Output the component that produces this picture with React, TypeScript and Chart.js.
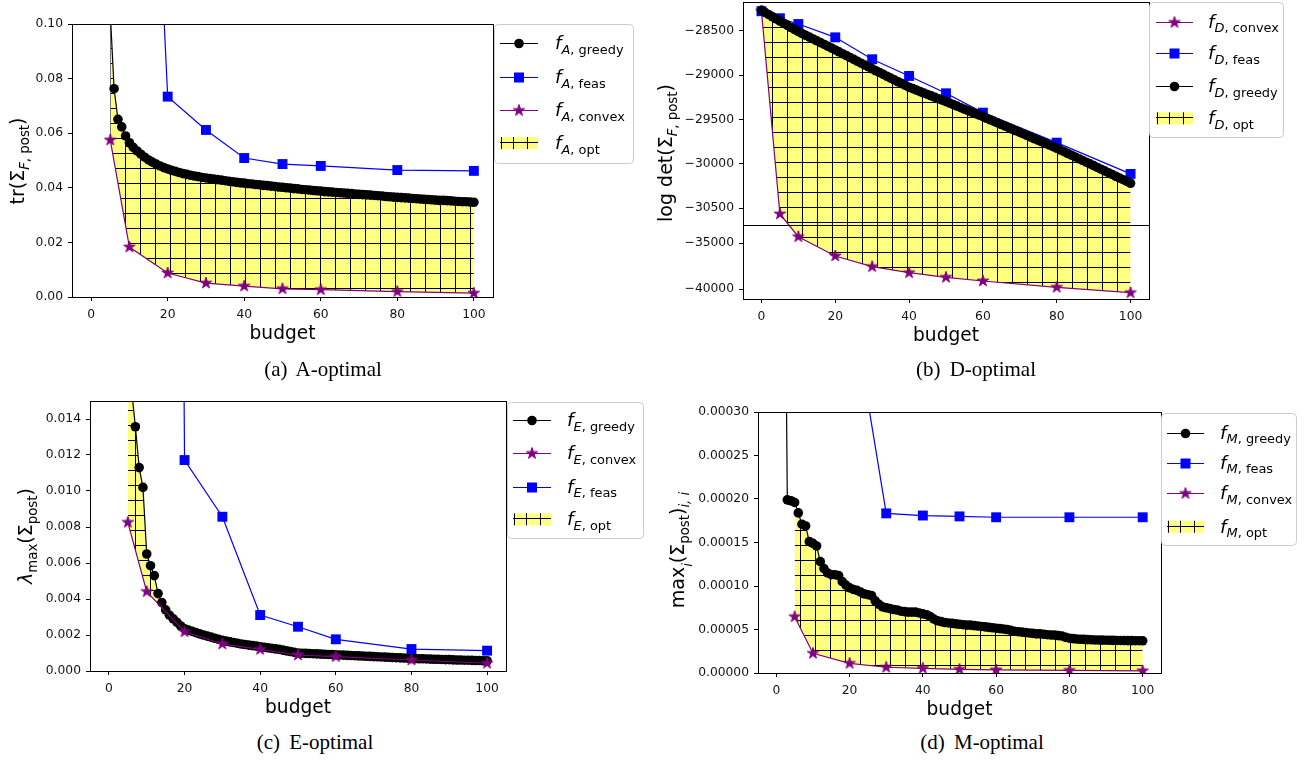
import React, { useEffect, useRef } from "react";
import { Chart, registerables, LinearScale } from "chart.js";

Chart.register(...registerables);

// ---------------- DATA ----------------
const BUDGET = [0,1,2,3,4,5,6,7,8,9,10,11,12,13,14,15,16,17,18,19,20,21,22,23,24,25,26,27,28,29,30,31,32,33,34,35,36,37,38,39,40,41,42,43,44,45,46,47,48,49,50,51,52,53,54,55,56,57,58,59,60,61,62,63,64,65,66,67,68,69,70,71,72,73,74,75,76,77,78,79,80,81,82,83,84,85,86,87,88,89,90,91,92,93,94,95,96,97,98,99,100];

const GREEDY_A = [
  0.95, 0.52, 0.31, 0.2, 0.14, 0.104, 0.0763, 0.0651, 0.0623, 0.059,
  0.0565, 0.0548, 0.0535, 0.0523, 0.0512, 0.0502, 0.0494, 0.0487, 0.048, 0.0474,
  0.0469, 0.0464, 0.046, 0.0456, 0.0452, 0.0449, 0.0446, 0.0443, 0.0441, 0.0438,
  0.0436, 0.0434, 0.0432, 0.043, 0.0428, 0.0426, 0.0424, 0.0422, 0.042, 0.0418,
  0.0417, 0.0415, 0.0414, 0.0412, 0.0411, 0.0409, 0.0408, 0.0406, 0.0405, 0.0403,
  0.0402, 0.04, 0.0399, 0.0397, 0.0396, 0.0394, 0.0393, 0.0392, 0.039, 0.0389,
  0.0388, 0.0386, 0.0385, 0.0384, 0.0383, 0.0382, 0.0381, 0.038, 0.0379, 0.0377,
  0.0376, 0.0375, 0.0374, 0.0373, 0.0372, 0.0371, 0.037, 0.0368, 0.0367, 0.0366,
  0.0365, 0.0364, 0.0363, 0.0362, 0.0361, 0.036, 0.0359, 0.0358, 0.0357, 0.0356,
  0.0355, 0.0354, 0.0354, 0.0353, 0.0352, 0.0351, 0.035, 0.0349, 0.0349, 0.0348,
  0.0347
];
const FEAS_X_A = [10, 20, 30, 40, 50, 60, 80, 100];
const FEAS_A = [0.37, 0.0734, 0.0612, 0.0509, 0.0487, 0.048, 0.0465, 0.0462];
const CONVEX_X_A = [5, 10, 20, 30, 40, 50, 60, 80, 100];
const CONVEX_A = [0.0575, 0.0183, 0.0088, 0.0051, 0.004, 0.003, 0.0027, 0.002, 0.0014];

const GREEDY_B = [
  -28271, -28296, -28320, -28344, -28368, -28392, -28416, -28440, -28464, -28488,
  -28511, -28532, -28552, -28573, -28593, -28614, -28634, -28655, -28676, -28696,
  -28717, -28738, -28760, -28781, -28802, -28823, -28845, -28866, -28887, -28908,
  -28930, -28951, -28971, -28992, -29013, -29034, -29054, -29075, -29096, -29116,
  -29137, -29153, -29169, -29186, -29202, -29218, -29234, -29250, -29267, -29283,
  -29299, -29316, -29333, -29350, -29367, -29384, -29400, -29417, -29434, -29451,
  -29468, -29486, -29503, -29521, -29539, -29557, -29574, -29592, -29610, -29627,
  -29645, -29663, -29681, -29699, -29717, -29735, -29752, -29770, -29788, -29806,
  -29824, -29844, -29863, -29883, -29902, -29922, -29942, -29961, -29981, -30000,
  -30020, -30040, -30060, -30079, -30099, -30119, -30139, -30159, -30178, -30198,
  -30218
];
const FEAS_X_B = [0, 5, 10, 20, 30, 40, 50, 60, 80, 100];
const FEAS_B = [-28280, -28360, -28425, -28575, -28822, -29010, -29205, -29423, -29761, -30113];
const CONVEX_X_B = [0, 5, 10, 20, 30, 40, 50, 60, 80, 100];
const CONVEX_B = [-28280, -30564, -34283, -36380, -37543, -38196, -38696, -39098, -39783, -40370];

const GREEDY_C = [
  0.2, 0.1, 0.06, 0.04, 0.028, 0.021, 0.0156, 0.01357, 0.0113, 0.0102,
  0.0065, 0.00585, 0.0053, 0.0043, 0.0038, 0.0034, 0.0031, 0.0029, 0.0027, 0.0025,
  0.00235, 0.00227, 0.0022, 0.00213, 0.00206, 0.002, 0.00194, 0.00188, 0.00182, 0.00176,
  0.0017, 0.00166, 0.00162, 0.00158, 0.00154, 0.0015, 0.00147, 0.00144, 0.00141, 0.00138,
  0.00135, 0.00132, 0.00129, 0.00126, 0.00123, 0.0012, 0.00116, 0.00112, 0.00108, 0.00104,
  0.001, 0.00099, 0.00098, 0.00097, 0.00096, 0.00095, 0.00094, 0.00093, 0.00092, 0.00091,
  0.0009, 0.00089, 0.00088, 0.00087, 0.00086, 0.00085, 0.00084, 0.00083, 0.00082, 0.00081,
  0.0008, 0.00079, 0.00078, 0.00077, 0.00076, 0.00075, 0.00074, 0.00073, 0.00072, 0.00071,
  0.0007, 0.00069, 0.00068, 0.00068, 0.00067, 0.00066, 0.00065, 0.00065, 0.00064, 0.00063,
  0.00063, 0.00062, 0.00061, 0.00061, 0.0006, 0.0006, 0.00059, 0.00058, 0.00058, 0.00057,
  0.00057
];
const FEAS_X_C = [10, 20, 30, 40, 50, 60, 80, 100];
const FEAS_C = [0.3, 0.01172, 0.00857, 0.00311, 0.00246, 0.00176, 0.00122, 0.00113];
const CONVEX_X_C = [5, 10, 20, 30, 40, 50, 60, 80, 100];
const CONVEX_C = [0.00826, 0.00441, 0.00218, 0.0015, 0.0012, 0.00089, 0.0008, 0.00061, 0.00043];

const GREEDY_D = [
  0.004, 0.0015, 0.0007, 0.000199, 0.000198, 0.000196, 0.000184, 0.000171, 0.000169, 0.000151,
  0.000149, 0.000146, 0.000128, 0.00012, 0.000115, 0.000113, 0.000113, 0.000112, 0.000105, 0.000101,
  0.000098, 0.000096, 0.000095, 0.000093, 0.000091, 0.00009, 0.000089, 0.000083, 0.000079, 0.000076,
  0.000075, 0.000074, 0.000073, 0.0000724, 0.000071, 0.0000705, 0.00007, 0.00007, 0.00007, 0.000069,
  0.000068, 0.000067, 0.000065, 0.000062, 0.00006, 0.000059, 0.000058, 0.0000575, 0.000057, 0.0000565,
  0.000056, 0.0000555, 0.000055, 0.000055, 0.0000545, 0.000054, 0.0000535, 0.000053, 0.0000525, 0.000052,
  0.0000515, 0.000051, 0.0000505, 0.00005, 0.000049, 0.000048, 0.0000475, 0.000047, 0.0000465, 0.000046,
  0.0000455, 0.000045, 0.000045, 0.0000445, 0.000044, 0.0000437, 0.0000435, 0.000043, 0.0000425, 0.000041,
  0.00004, 0.0000395, 0.000039, 0.0000388, 0.0000386, 0.0000384, 0.0000382, 0.000038, 0.0000379, 0.0000378,
  0.0000377, 0.0000376, 0.0000375, 0.0000374, 0.0000374, 0.0000373, 0.0000372, 0.0000372, 0.0000371, 0.0000371,
  0.000037
];
const FEAS_X_D = [10, 20, 30, 40, 50, 60, 80, 100];
const FEAS_D = [0.0008, 0.00044, 0.0001835, 0.000181, 0.00018, 0.000179, 0.000179, 0.000179];
const CONVEX_X_D = [5, 10, 20, 30, 40, 50, 60, 80, 100];
const CONVEX_D = [0.0000647, 0.0000226, 0.0000111, 0.0000066, 0.0000054, 0.0000042, 0.0000035, 0.000003, 0.0000025];

const X_TICKS = [0, 20, 40, 60, 80, 100];
const Y_TICKS_A = [0, 0.02, 0.04, 0.06, 0.08, 0.1];
const Y_TICKS_B = [-28500, -29000, -29500, -30000, -30500, -35000, -40000];
const Y_TICKS_C = [0, 0.002, 0.004, 0.006, 0.008, 0.01, 0.012, 0.014];
const Y_TICKS_D = [0, 0.00005, 0.0001, 0.00015, 0.0002, 0.00025, 0.0003];

// broken y axis of panel (b): upper and lower value ranges
const BREAK_B = { topMax: -28177, topMin: -30688, botMax: -33011, botMin: -41055, gap: -31850, frac: 0.7508 };

// ---------------- helpers ----------------
const FONT = "'DejaVu Sans', sans-serif";
const pts = (xs: number[], ys: number[]) => xs.map((x, i) => ({ x, y: ys[i] }));

class BrokenScale extends LinearScale {
  static id = "broken";
  static defaults = {};
  brkPixel() {
    return (this as any).top + BREAK_B.frac * ((this as any).bottom - (this as any).top);
  }
  getPixelForValue(v: number) {
    const b = BREAK_B;
    const top = (this as any).top, bottom = (this as any).bottom;
    const p = this.brkPixel();
    if (v >= b.gap) return top + ((b.topMax - v) / (b.topMax - b.topMin)) * (p - top);
    return p + ((b.botMax - v) / (b.botMax - b.botMin)) * (bottom - p);
  }
  getValueForPixel(px: number) {
    const b = BREAK_B;
    const top = (this as any).top, bottom = (this as any).bottom;
    const p = this.brkPixel();
    if (px <= p) return b.topMax - ((px - top) / (p - top)) * (b.topMax - b.topMin);
    return b.botMax - ((px - p) / (bottom - p)) * (b.botMax - b.botMin);
  }
}
Chart.register(BrokenScale as any);

function makeStar(color: string, R: number) {
  const s = Math.ceil(R * 2 + 4);
  const c = document.createElement("canvas");
  c.width = s; c.height = s;
  const g = c.getContext("2d")!;
  g.fillStyle = color;
  g.strokeStyle = color;
  g.lineWidth = 1;
  g.lineJoin = "miter";
  g.beginPath();
  for (let i = 0; i < 10; i++) {
    const r = i % 2 === 0 ? R : R * 0.382;
    const a = -Math.PI / 2 + (i * Math.PI) / 5;
    g.lineTo(s / 2 + r * Math.cos(a), s / 2 + r * Math.sin(a));
  }
  g.closePath();
  g.fill();
  g.stroke();
  return c;
}

function makeHatch(dx: number, dy: number) {
  const c = document.createElement("canvas");
  c.width = 15; c.height = 15;
  const g = c.getContext("2d")!;
  g.fillStyle = "rgba(255,255,0,0.5)";
  g.fillRect(0, 0, 15, 15);
  g.fillStyle = "#000";
  g.fillRect(0, 0, 15, 1);
  g.fillRect(0, 0, 1, 15);
  const p = g.createPattern(c, "repeat")!;
  try { p.setTransform(new DOMMatrix().translateSelf(dx, dy)); } catch (e) {}
  return p;
}

type Part = { t: string; it?: boolean; sub?: number };
function drawParts(ctx: CanvasRenderingContext2D, parts: Part[], x: number, y: number, size: number, center: boolean) {
  const fontOf = (p: Part) => `${p.it ? "italic " : ""}${p.sub ? size * 0.7 : size}px ${FONT}`;
  let w = 0;
  for (const p of parts) { ctx.font = fontOf(p); w += ctx.measureText(p.t).width; }
  let cx = center ? x - w / 2 : x;
  ctx.textAlign = "left";
  ctx.textBaseline = "alphabetic";
  for (const p of parts) {
    ctx.font = fontOf(p);
    ctx.fillText(p.t, cx, y + (p.sub ? p.sub * size : 0));
    cx += ctx.measureText(p.t).width;
  }
}

const STAR = makeStar("#800080", 6.0);

function drawMarker(ctx: CanvasRenderingContext2D, kind: string, x: number, y: number) {
  if (kind === "greedy") {
    ctx.fillStyle = "#000";
    ctx.beginPath(); ctx.arc(x, y, 4.8, 0, Math.PI * 2); ctx.fill();
  } else if (kind === "feas") {
    ctx.fillStyle = "#0000ff";
    ctx.fillRect(x - 5, y - 5, 10, 10);
  } else if (kind === "convex") {
    ctx.drawImage(STAR, x - STAR.width / 2, y - STAR.height / 2);
  }
}
const COLORS: Record<string, string> = { greedy: "#000000", feas: "#0000ff", convex: "#800080" };

// ---------------- panels ----------------
const PANELS: any[] = [
  {
    key: "a", ox: 0, oy: 0, W: 650, H: 350,
    area: { L: 72, T: 24, R: 493, B: 297 },
    y: { min: 0, max: 0.1, ticks: Y_TICKS_A, fmt: (v: number) => v.toFixed(2) },
    greedy: GREEDY_A, feas: pts(FEAS_X_A, FEAS_A), convex: pts(CONVEX_X_A, CONVEX_A),
    order: { greedy: 3, feas: 2, convex: 1 },
    hatch: [5, 3],
    letter: "A",
    legend: { x0: 494, y0: 24, x1: 633, y1: 163, rows: [43, 77, 110, 143], hx0: 500, hx1: 538, tx: 555, items: ["greedy", "feas", "convex", "opt"] },
    ylab: { x: 24, y: 161, parts: [{ t: "tr(Σ" }, { t: "F", it: true, sub: 0.25 }, { t: ", post", sub: 0.25 }, { t: ")" }] },
  },
  {
    key: "b", ox: 650, oy: 0, W: 655, H: 350,
    area: { L: 743, T: 2, R: 1149, B: 299 },
    y: { type: "broken", min: BREAK_B.botMin, max: BREAK_B.topMax, ticks: Y_TICKS_B, fmt: (v: number) => (v < 0 ? "\u2212" : "") + Math.abs(v) },
    greedy: GREEDY_B, feas: pts(FEAS_X_B, FEAS_B), convex: pts(CONVEX_X_B, CONVEX_B),
    order: { greedy: 1, feas: 2, convex: 3 },
    hatch: [2, 12],
    letter: "D",
    legend: { x0: 1149, y0: 2, x1: 1283, y1: 137, rows: [21.7, 53.3, 86, 118.3], hx0: 1156, hx1: 1193, tx: 1208, items: ["convex", "feas", "greedy", "opt"] },
    ylab: { x: 672, y: 153, parts: [{ t: "log det(Σ" }, { t: "F", it: true, sub: 0.25 }, { t: ", post", sub: 0.25 }, { t: ")" }] },
    broken: true,
  },
  {
    key: "c", ox: 0, oy: 380, W: 650, H: 345,
    area: { L: 90, T: 401, R: 506, B: 671 },
    y: { min: 0, max: 0.015, ticks: Y_TICKS_C, fmt: (v: number) => v.toFixed(3) },
    greedy: GREEDY_C, feas: pts(FEAS_X_C, FEAS_C), convex: pts(CONVEX_X_C, CONVEX_C),
    order: { greedy: 3, feas: 1, convex: 2 },
    hatch: [0, 0],
    letter: "E",
    legend: { x0: 507, y0: 402, x1: 643, y1: 538, rows: [420, 453.3, 486.7, 519.3], hx0: 513, hx1: 551, tx: 567, items: ["greedy", "convex", "feas", "opt"] },
    ylab: { x: 32, y: 536, parts: [{ t: "λ", it: true }, { t: "max", sub: 0.25 }, { t: "(Σ" }, { t: "post", sub: 0.25 }, { t: ")" }] },
  },
  {
    key: "d", ox: 650, oy: 380, W: 655, H: 345,
    area: { L: 758, T: 412, R: 1161, B: 673 },
    y: { min: 0, max: 0.0003, ticks: Y_TICKS_D, fmt: (v: number) => v.toFixed(5) },
    greedy: GREEDY_D, feas: pts(FEAS_X_D, FEAS_D), convex: pts(CONVEX_X_D, CONVEX_D),
    order: { greedy: 3, feas: 2, convex: 1 },
    hatch: [0, 0],
    letter: "M",
    legend: { x0: 1161, y0: 413, x1: 1296, y1: 545, rows: [432.7, 462.7, 493.3, 526.7], hx0: 1167, hx1: 1204, tx: 1220, items: ["greedy", "feas", "convex", "opt"] },
    ylab: { x: 684, y: 550, parts: [{ t: "max" }, { t: "i", it: true, sub: 0.42 }, { t: "(Σ" }, { t: "post", sub: 0.25 }, { t: ")" }, { t: "i, i", it: true, sub: 0.25 }] },
  },
];

const CAPTIONS = [
  { text: "(a) A-optimal", cx: 323, top: 359 },
  { text: "(b) D-optimal", cx: 976, top: 359 },
  { text: "(c) E-optimal", cx: 315, top: 732 },
  { text: "(d) M-optimal", cx: 982, top: 732 },
];

const Y_AXIS_W = 60;
const X_AXIS_H = 30;

function decorPlugin(cfg: any) {
  return {
    id: "decor" + cfg.key,
    afterDraw(chart: any) {
      const ctx: CanvasRenderingContext2D = chart.ctx;
      const a = chart.chartArea;
      const ox = cfg.ox, oy = cfg.oy;
      ctx.save();
      ctx.strokeStyle = "#000";
      ctx.lineWidth = 1;
      ctx.beginPath();
      const tY = Math.round(a.top) + 0.5, rX = Math.round(a.right) + 0.5;
      ctx.moveTo(a.left, tY); ctx.lineTo(rX + 0.5, tY);
      ctx.moveTo(rX, a.top); ctx.lineTo(rX, a.bottom + 1);
      ctx.stroke();
      if (cfg.broken) {
        const s = chart.scales.y;
        const by = Math.round(s.brkPixel()) + 0.5;
        ctx.beginPath(); ctx.moveTo(a.left, by); ctx.lineTo(a.right + 1, by); ctx.stroke();
      }
      ctx.fillStyle = "#000";
      ctx.font = `18.6px ${FONT}`;
      ctx.textAlign = "center";
      ctx.textBaseline = "alphabetic";
      ctx.fillText("budget", (a.left + a.right) / 2, a.bottom + 42);
      ctx.save();
      ctx.translate(cfg.ylab.x - ox, cfg.ylab.y - oy);
      ctx.rotate(-Math.PI / 2);
      drawParts(ctx, cfg.ylab.parts, 0, 0, 19, true);
      ctx.restore();
      const L = cfg.legend;
      ctx.beginPath();
      (ctx as any).roundRect(L.x0 - ox + 0.5, L.y0 - oy + 0.5, L.x1 - L.x0, L.y1 - L.y0, 4);
      ctx.fillStyle = "rgba(255,255,255,0.8)";
      ctx.fill();
      ctx.strokeStyle = "#cccccc";
      ctx.stroke();
      L.items.forEach((kind: string, i: number) => {
        const ry = L.rows[i] - oy;
        const hx0 = L.hx0 - ox, hx1 = L.hx1 - ox;
        if (kind === "opt") {
          ctx.fillStyle = "rgba(255,255,0,0.5)";
          ctx.fillRect(hx0, ry - 6, hx1 - hx0, 12);
          ctx.fillStyle = "#000";
          ctx.fillRect(hx0, Math.round(ry - 1), hx1 - hx0, 1);
          [1, 13, 27].forEach((d) => ctx.fillRect(hx0 + d, ry - 6, 1, 12));
        } else {
          ctx.strokeStyle = COLORS[kind];
          ctx.lineWidth = 1.2;
          ctx.beginPath();
          ctx.moveTo(hx0, Math.round(ry) + 0.5); ctx.lineTo(hx1, Math.round(ry) + 0.5);
          ctx.stroke();
          drawMarker(ctx, kind, (hx0 + hx1) / 2, Math.round(ry) + 0.5);
        }
        ctx.fillStyle = "#000";
        drawParts(ctx, [{ t: "f", it: true }, { t: cfg.letter, it: true, sub: 0.25 }, { t: ", " + kind, sub: 0.25 }], L.tx - ox, ry + 6, 18.5, false);
      });
      ctx.restore();
    },
  };
}

function buildConfig(cfg: any) {
  const a = cfg.area;
  const pattern = makeHatch(cfg.hatch[0], cfg.hatch[1]);
  const tickCommon = { font: { family: FONT, size: 12.3 }, color: "#111", autoSkip: false, maxRotation: 0 };
  const gridCommon = { display: true, drawOnChartArea: false, drawTicks: true, tickLength: 4, color: "#000", tickColor: "#000", lineWidth: 1 };
  const datasets: any[] = [
    {
      label: "opt",
      data: pts(BUDGET, cfg.greedy),
      borderWidth: 0,
      pointRadius: 0,
      backgroundColor: pattern,
      fill: 3,
      order: 10,
    },
    {
      label: "greedy",
      data: pts(BUDGET, cfg.greedy),
      borderColor: "#000",
      borderWidth: 1.2,
      pointRadius: 4.8,
      pointBackgroundColor: "#000",
      pointBorderWidth: 0,
      fill: false,
      order: cfg.order.greedy,
    },
    {
      label: "feas",
      data: cfg.feas,
      borderColor: "#0000ff",
      borderWidth: 1.2,
      pointStyle: "rect",
      pointRadius: 7,
      pointBackgroundColor: "#0000ff",
      pointBorderWidth: 0,
      fill: false,
      order: cfg.order.feas,
    },
    {
      label: "convex",
      data: cfg.convex,
      borderColor: "#800080",
      borderWidth: 1.2,
      pointStyle: STAR,
      pointRadius: 6,
      fill: false,
      order: cfg.order.convex,
    },
  ];
  return {
    type: "line",
    data: { datasets },
    plugins: [decorPlugin(cfg)],
    options: {
      responsive: false,
      animation: false,
      events: [],
      devicePixelRatio: 1,
      layout: {
        autoPadding: false,
        padding: {
          left: a.L - cfg.ox - Y_AXIS_W,
          top: a.T - cfg.oy,
          right: cfg.ox + cfg.W - a.R,
          bottom: cfg.oy + cfg.H - a.B - X_AXIS_H,
        },
      },
      plugins: { legend: { display: false }, tooltip: { enabled: false } },
      scales: {
        x: {
          type: "linear",
          min: -5,
          max: 105,
          afterBuildTicks: (s: any) => { s.ticks = X_TICKS.map((v) => ({ value: v })); },
          afterFit: (s: any) => { s.height = X_AXIS_H; s.paddingLeft = 0; s.paddingRight = 0; },
          ticks: { ...tickCommon, padding: 6, callback: (v: number) => String(v) },
          grid: gridCommon,
          border: { display: true, color: "#000", width: 1 },
        },
        y: {
          type: cfg.y.type || "linear",
          min: cfg.y.min,
          max: cfg.y.max,
          afterBuildTicks: (s: any) => { s.ticks = cfg.y.ticks.map((v: number) => ({ value: v })); },
          afterFit: (s: any) => { s.width = Y_AXIS_W; s.paddingTop = 0; s.paddingBottom = 0; },
          ticks: { ...tickCommon, padding: 5, callback: (v: number) => cfg.y.fmt(v) },
          grid: gridCommon,
          border: { display: true, color: "#000", width: 1 },
        },
      },
    },
  };
}

function Panel({ cfg }: { cfg: any }) {
  const ref = useRef<HTMLCanvasElement | null>(null);
  useEffect(() => {
    const chart = new Chart(ref.current as HTMLCanvasElement, buildConfig(cfg) as any);
    return () => chart.destroy();
  }, []);
  return (
    <canvas
      ref={ref}
      width={cfg.W}
      height={cfg.H}
      style={{ position: "absolute", left: cfg.ox, top: cfg.oy, width: cfg.W, height: cfg.H }}
    />
  );
}

export default function App() {
  return (
    <div style={{ position: "absolute", left: 0, top: 0, width: 1305, height: 760, background: "#fff", overflow: "hidden" }}>
      {PANELS.map((p) => (
        <Panel key={p.key} cfg={p} />
      ))}
      {CAPTIONS.map((c) => (
        <div
          key={c.text}
          style={{
            position: "absolute",
            left: c.cx - 150,
            top: c.top,
            width: 300,
            textAlign: "center",
            fontFamily: "'Liberation Serif', 'Times New Roman', serif",
            fontSize: 21,
            lineHeight: "21px",
            wordSpacing: 4,
            color: "#000",
            whiteSpace: "pre",
          }}
        >
          {c.text}
        </div>
      ))}
    </div>
  );
}
